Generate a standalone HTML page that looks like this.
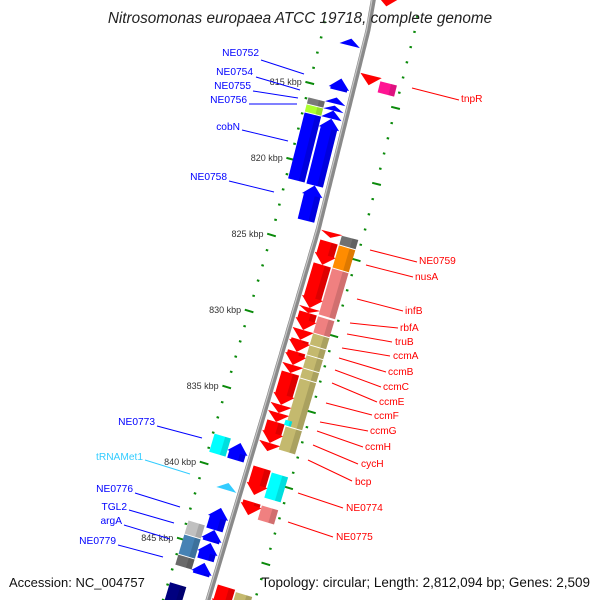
<!DOCTYPE html>
<html><head><meta charset="utf-8"><style>
html,body{margin:0;padding:0;background:#fff}
svg{display:block;font-family:"Liberation Sans",sans-serif}
</style></head><body>
<svg id="chart" width="600" height="600" viewBox="0 0 600 600">
<g id="ticks"></g>
<path id="spine" fill="none" stroke="#8a8a8a" stroke-width="5"/>
<path id="spine2" fill="none" stroke="#c8c8c8" stroke-width="1.2"/>
<g id="genes"></g>
<g id="labels" font-size="10.2"></g>
<text x="300" y="23" text-anchor="middle" font-size="15.3" font-style="italic" fill="#222">Nitrosomonas europaea ATCC 19718, complete genome</text>
<text x="9" y="587" font-size="13" fill="#111">Accession: NC_004757</text>
<text x="590" y="587" text-anchor="end" font-size="13.5" fill="#111">Topology: circular; Length: 2,812,094 bp; Genes: 2,509</text>
</svg>
<script>
// genome data (kbp)
const gStart = [809.2,812.30,814.93,816.18,816.71,817.04,817.57,821.97,816.58,817.04,817.57,
 814.28,814.47,
 824.61,825.20,826.71,829.54,829.87,830.99,831.64,832.43,833.29,833.82,835.92,836.45,837.04,838.42,840.07,842.30,847.9,
 824.61,825.20,826.71,829.87,830.99,831.78,832.43,833.29,833.95,837.11,836.7,840.13,842.30,848.0,
 838.82,838.95,841.58,843.22,844.67,845.53,846.84,844.54,845.46,846.78,848.6];
const gEnd = [809.8,812.76,815.72,816.58,817.04,817.57,821.97,824.28,817.04,817.57,821.97,
 814.93,815.26,
 824.93,826.71,829.54,829.87,830.99,831.64,832.43,833.29,833.82,835.92,836.45,837.04,838.42,838.95,841.84,843.16,849.5,
 825.20,826.71,829.80,830.99,831.78,832.43,833.29,833.95,837.11,838.68,837.1,841.84,843.29,849.5,
 840.07,840.07,842.04,844.67,845.46,846.64,847.63,845.46,846.78,847.50,850];
const gTrack = [1,-1,-1,-1,-1,-1,-1,-1,-2,-2,-2,
 1,2,
 1,1,1,1,1,1,1,1,1,1,1,1,1,1,1,1,1,
 2,2,2,2,2,2,2,2,2,2,3,2,2,2,
 -2,-1,-1,-1,-1,-1,-1,-2,-2,-2,-2];
const gColor = ["#ff0000","#0000ff","#0000ff","#0000ff","#0000ff","#0000ff","#0000ff","#0000ff","#7a7a7a","#adff2f","#0000ff",
 "#ff0000","#ff1493",
 "#ff0000","#ff0000","#ff0000","#ff0000","#ff0000","#ff0000","#ff0000","#ff0000","#ff0000","#ff0000","#ff0000","#ff0000","#ff0000","#ff0000","#ff0000","#ff0000","#ff0000",
 "#707070","#ff8c00","#f08080","#f08080","#c4b96e","#c4b96e","#c4b96e","#c4b96e","#c4b96e","#c4b96e","#00ffff","#00ffff","#f08080","#c4b96e",
 "#00ffff","#0000ff","#33ccff","#0000ff","#0000ff","#0000ff","#0000ff","#c0c0c0","#4682b4","#6a6a6a","#000080"];
const gArrow = [1,1,1,1,1,1,1,1,0,0,0,
 1,0,
 1,1,1,1,1,1,1,1,1,1,1,1,1,1,1,1,1,
 0,0,0,0,0,0,0,0,0,0,0,0,0,0,
 0,1,1,1,1,1,1,0,0,0,0];
const leftTickKbp = [811,812,813,814,815,816,817,818,819,820,821,822,823,824,825,826,827,828,829,830,831,832,833,834,835,836,837,838,839,840,841,842,843,844,845,846,847,848,849,850];
const leftTickLabels = ["815 kbp","820 kbp","825 kbp","830 kbp","835 kbp","840 kbp","845 kbp"];
const rightTickKbp = [810.64,811.64,812.64,813.64,814.64,815.64,816.64,817.64,818.64,819.64,820.64,821.64,822.64,823.64,824.64,825.64,826.64,827.64,828.64,829.64,830.64,831.64,832.64,833.64,834.64,835.64,836.64,837.64,838.64,839.64,840.64,841.64,842.64,843.64,844.64,845.64,846.64,847.64,848.64];

const NS="http://www.w3.org/2000/svg";
const SP=[[-50,382],[30,368],[230,318],[420,262],[640,196]];
function spineX(y){for(let i=0;i<SP.length-1;i++){const a=SP[i],b=SP[i+1];if(y<=b[0]||i==SP.length-2){return a[1]+(b[1]-a[1])*(y-a[0])/(b[0]-a[0]);}}}
function yOf(k){return 83+(k-815)*15.2;}
function slope(y){return (spineX(y+1)-spineX(y-1))/2;}
function pt(k,d){const y=yOf(k),s=slope(y),L=Math.hypot(1,s);return [spineX(y)+d/L,y-s*d/L];}
const trackOff={"-2":-33,"-1":-14,"1":14,"2":33,"3":26};
const trackW={"-2":17,"-1":17,"1":18,"2":17,"3":7};

let sd="",sd2="";
for(let y=-10;y<=610;y+=5){sd+=(y==-10?"M":"L")+spineX(y).toFixed(1)+","+y;sd2+=(y==-10?"M":"L")+(spineX(y)-1.3).toFixed(1)+","+y;}
document.getElementById('spine').setAttribute('d',sd);
document.getElementById('spine2').setAttribute('d',sd2);

const tg=document.getElementById('ticks');
function tick(k,hoff,len){
  const y=yOf(k),x=spineX(y)+hoff,s=slope(y),L=Math.hypot(1,s);
  const nx=1/L,ny=-s/L;
  const l=document.createElementNS(NS,'line');
  l.setAttribute('x1',(x-nx*len/2).toFixed(1));l.setAttribute('y1',(y-ny*len/2).toFixed(1));
  l.setAttribute('x2',(x+nx*len/2).toFixed(1));l.setAttribute('y2',(y+ny*len/2).toFixed(1));
  l.setAttribute('stroke','#0a8a0a');l.setAttribute('stroke-width','2');
  
  
  tg.appendChild(l);
  return [x,y];
}
let li=0;
leftTickKbp.forEach(k=>{
  const major=Math.abs(k%5)<1e-6;
  const p=tick(k,-45,major?9:2.5);
  if(major){
    const t=document.createElementNS(NS,'text');
    t.setAttribute('x',(p[0]-8).toFixed(1));t.setAttribute('y',(p[1]+2).toFixed(1));
    t.setAttribute('text-anchor','end');t.setAttribute('font-size','9');t.setAttribute('fill','#333');
    
    
    t.textContent=leftTickLabels[li++];tg.appendChild(t);
  }
});
rightTickKbp.forEach((k,i)=>{tick(k,47,(i%5==1&&i>1)?9:2.5);});

const gg=document.getElementById('genes');
function poly(pts,fill,name){
  const p=document.createElementNS(NS,'polygon');
  p.setAttribute('points',pts.map(q=>q[0].toFixed(1)+","+q[1].toFixed(1)).join(" "));
  p.setAttribute('fill',fill);
  
  
  gg.appendChild(p);
}
for(let i=0;i<gStart.length;i++){
  const k1=gStart[i],k2=gEnd[i],tr=gTrack[i],d=trackOff[tr],w=trackW[tr];
  const hk=Math.min(10/15.2,k2-k1);
  let pts;
  if(gArrow[i]&&tr>0){
    const kb=k2-hk;
    pts=[pt(k1,d-w/2),pt(k1,d+w/2),pt(kb,d+w/2),pt(kb,d+w/2+2),pt(k2,d),pt(kb,d-w/2-2),pt(kb,d-w/2)];
  }else if(gArrow[i]&&tr<0){
    const kb=k1+hk;
    pts=[pt(k2,d-w/2),pt(k2,d+w/2),pt(kb,d+w/2),pt(kb,d+w/2+2),pt(k1,d),pt(kb,d-w/2-2),pt(kb,d-w/2)];
  }else{
    pts=[pt(k1+0.03,d-w/2),pt(k1+0.03,d+w/2),pt(k2-0.03,d+w/2),pt(k2-0.03,d-w/2)];
  }
  poly(pts,gColor[i],'gene');
  const a=Math.min(k1,k2)+0.03,b=(gArrow[i]&&tr>0)?k2-hk:k2-0.03, a2=(gArrow[i]&&tr<0)?k1+hk:a;
  if(b>a2) poly([pt(a2,d+w*0.15),pt(a2,d+w/2),pt(b,d+w/2),pt(b,d+w*0.15)],'rgba(0,0,0,0.13)','gene-shading');
}

// labels
const lg=document.getElementById('labels');
const L=[
 ["NE0752","#0000ff",259,56,261,60,304,74],["NE0754","#0000ff",253,75,256,77,300,90],
 ["NE0755","#0000ff",251,89,253,91,298,98],["NE0756","#0000ff",247,103,249,104,297,104],
 ["cobN","#0000ff",240,130,242,130,288,141],["NE0758","#0000ff",227,180,229,181,274,192],
 ["NE0773","#0000ff",155,425,157,426,202,438],["tRNAMet1","#33ccff",143,460,145,460,190,474],
 ["NE0776","#0000ff",133,492,135,493,180,507],["TGL2","#0000ff",127,510,129,510,174,523],
 ["argA","#0000ff",122,524,124,525,170,539],["NE0779","#0000ff",116,544,118,545,163,557],
 ["tnpR","#ff0000",-461,102,412,88,459,100],["NE0759","#ff0000",-419,264,370,250,417,262],
 ["nusA","#ff0000",-415,280,366,265,413,277],["infB","#ff0000",-405,314,357,299,403,311],
 ["rbfA","#ff0000",-400,331,350,323,398,328],["truB","#ff0000",-395,345,347,334,392,342],
 ["ccmA","#ff0000",-393,359,342,348,390,356],["ccmB","#ff0000",-388,375,339,358,386,372],
 ["ccmC","#ff0000",-383,390,335,370,381,387],["ccmE","#ff0000",-379,405,332,383,377,402],
 ["ccmF","#ff0000",-374,419,326,403,372,415],["ccmG","#ff0000",-370,434,320,422,368,431],
 ["ccmH","#ff0000",-365,450,317,431,363,447],["cycH","#ff0000",-361,467,313,445,358,464],
 ["bcp","#ff0000",-355,485,308,460,352,481],["NE0774","#ff0000",-346,511,298,493,343,508],
 ["NE0775","#ff0000",-336,540,288,522,333,537]];
L.forEach(r=>{
  const ln=document.createElementNS(NS,'line');
  ln.setAttribute('x1',r[4]);ln.setAttribute('y1',r[5]);ln.setAttribute('x2',r[6]);ln.setAttribute('y2',r[7]);
  ln.setAttribute('stroke',r[1]);ln.setAttribute('stroke-width','1');
  
  
  lg.appendChild(ln);
  const t=document.createElementNS(NS,'text');
  t.setAttribute('x',Math.abs(r[2]));t.setAttribute('y',r[3]);
  t.setAttribute('text-anchor',r[2]<0?'start':'end');t.setAttribute('fill',r[1]);
  
  
  t.textContent=r[0];lg.appendChild(t);
});
</script>
</body></html>
